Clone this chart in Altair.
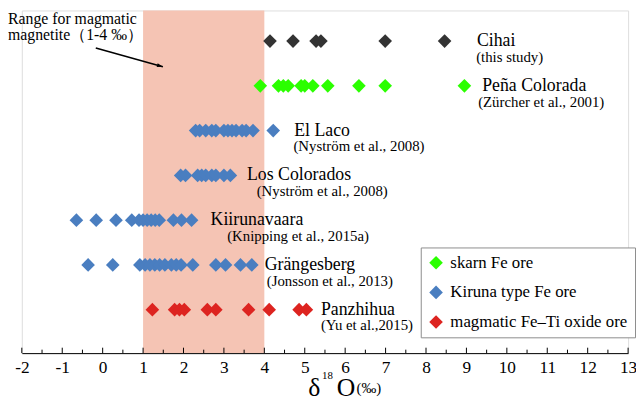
import altair as alt
import pandas as pd

# ---------------- data ----------------
deposits = ["Cihai", "Peña Colorada", "El Laco", "Los Colorados",
            "Kiirunavaara", "Grängesberg", "Panzhihua"]
references = ["(this study)", "(Zürcher et al., 2001)", "(Nyström et al., 2008)",
              "(Nyström et al., 2008)", "(Knipping et al., 2015a)",
              "(Jonsson et al., 2013)", "(Yu et al.,2015)"]
ore_types = ["Cihai", "skarn Fe ore", "Kiruna type Fe ore", "Kiruna type Fe ore",
             "Kiruna type Fe ore", "Kiruna type Fe ore", "magmatic Fe–Ti oxide ore"]

cihai = [4.14, 4.71, 5.28, 5.40, 6.99, 8.46]
pena_colorada = [3.90, 4.35, 4.47, 4.59, 4.91, 5.00, 5.20, 5.57, 6.34, 6.99, 8.95]
el_laco = [2.30, 2.40, 2.55, 2.70, 2.80, 3.00, 3.10, 3.20, 3.30, 3.45, 3.55, 3.72, 4.22]
los_colorados = [1.93, 2.05, 2.35, 2.45, 2.55, 2.70, 2.80, 3.00, 3.16]
kiirunavaara = [-0.65, -0.16, 0.33, 0.72, 0.90, 1.00, 1.10, 1.20, 1.30, 1.40, 1.75, 1.95, 2.20]
grangesberg = [-0.36, 0.25, 0.92, 1.05, 1.17, 1.29, 1.41, 1.54, 1.70, 1.82, 1.94,
               2.23, 2.80, 3.04, 3.41, 3.69]
panzhihua = [1.23, 1.78, 1.90, 2.02, 2.59, 2.80, 3.61, 4.12, 4.86, 5.04]
series = [cihai, pena_colorada, el_laco, los_colorados, kiirunavaara, grangesberg, panzhihua]

# label anchors (in ‰ units)
name_x = [9.26, 9.39, 4.74, 3.57, 2.67, 4.01, 5.40]
ref_x = [9.24, 9.29, 4.72, 3.81, 3.08, 4.06, 5.40]

magmatic_range = [1, 4]
major_ticks = [-2, -1, 0, 1, 2, 3, 4, 5, 6, 7, 8, 9, 10, 11, 12, 13]
minor_ticks = [-1.5, -0.5, 0.5, 1.5, 2.5, 3.5, 4.5, 5.5, 6.5, 7.5, 8.5, 9.5,
               10.5, 11.5, 12.5]

legend_types = ["skarn Fe ore", "Kiruna type Fe ore", "magmatic Fe–Ti oxide ore"]
type_domain = ["Cihai"] + legend_types
type_colors = ["#333333", "#2BFF00", "#4A7EC0", "#DD2420"]

# ---------------- tables ----------------
rows = []
for i, vals in enumerate(series):
    for v in vals:
        rows.append({"row": i, "d18O": v, "type": ore_types[i]})
points_df = pd.DataFrame(rows)
labels_df = pd.DataFrame({"row": list(range(len(deposits))), "name": deposits,
                          "ref": references, "name_x": name_x, "ref_x": ref_x})
range_df = pd.DataFrame({"lo": [magmatic_range[0]], "hi": [magmatic_range[1]]})
major_df = pd.DataFrame({"t": major_ticks})
minor_df = pd.DataFrame({"t": minor_ticks})
arrow_df = pd.DataFrame({"x0": [-0.17], "y0": [0.154], "x1": [1.49], "y1": [0.574]})
dummy = pd.DataFrame({"a": [0]})

W, H = 614, 347
FONT = "Liberation Serif"

xs = alt.Scale(domain=[-2, 13], nice=False, zero=False)
ys = alt.Scale(domain=[-0.684, 6.971], reverse=True, nice=False, zero=False)
xaxis = alt.Axis(values=major_ticks, tickSize=0, labelFont=FONT, labelFontSize=17.5,
                 labelColor="black", domainColor="black", domainWidth=1,
                 labelPadding=6, grid=False, title=None, labelFlush=False,
                 labelOverlap=False, labelExpr="'' + datum.value")

shade = alt.Chart(range_df).mark_rect(color="#F5C4B4").encode(
    x=alt.X("lo:Q", scale=xs, axis=xaxis, title=None),
    x2="hi:Q",
    y=alt.value(0), y2=alt.value(H),
)

major = alt.Chart(major_df).mark_rule(color="black", strokeWidth=1).encode(
    x=alt.X("t:Q", scale=xs, axis=xaxis, title=None),
    y=alt.value(H - 5.5), y2=alt.value(H),
)
minor = alt.Chart(minor_df).mark_rule(color="black", strokeWidth=1).encode(
    x=alt.X("t:Q", scale=xs, axis=xaxis, title=None),
    y=alt.value(H - 3.5), y2=alt.value(H),
)

pts = alt.Chart(points_df).mark_point(shape="diamond", filled=True, size=190,
                                      opacity=1, strokeWidth=0).encode(
    x=alt.X("d18O:Q", scale=xs, axis=xaxis, title=None),
    y=alt.Y("row:Q", scale=ys, axis=None),
    color=alt.Color("type:N", scale=alt.Scale(domain=type_domain, range=type_colors),
                    legend=alt.Legend(title=None, orient="none", legendX=404, legendY=240,
                                      values=legend_types, symbolType="diamond",
                                      symbolSize=190, symbolStrokeWidth=0,
                                      symbolOpacity=1, labelFont=FONT,
                                      labelFontSize=17, labelColor="black",
                                      labelOffset=6, rowPadding=12, padding=7,
                                      strokeColor="#8c8c8c", fillColor="white",
                                      labelLimit=400)),
)

names = alt.Chart(labels_df).mark_text(font=FONT, fontSize=18, align="left",
                                       baseline="alphabetic", dy=5,
                                       color="black").encode(
    x=alt.X("name_x:Q", scale=xs, axis=xaxis, title=None),
    y=alt.Y("row:Q", scale=ys, axis=None),
    text="name:N",
)
refs = alt.Chart(labels_df).mark_text(font=FONT, fontSize=15, align="left",
                                      baseline="alphabetic", dy=21,
                                      color="black").encode(
    x=alt.X("ref_x:Q", scale=xs, axis=xaxis, title=None),
    y=alt.Y("row:Q", scale=ys, axis=None),
    text="ref:N",
)

arrow_line = alt.Chart(arrow_df).mark_rule(color="black", strokeWidth=1.6).encode(
    x=alt.X("x0:Q", scale=xs, axis=xaxis, title=None), x2="x1:Q",
    y=alt.Y("y0:Q", scale=ys, axis=None), y2="y1:Q",
)
arrow_head = alt.Chart(arrow_df).mark_point(
    shape="M0,0 L-2,-0.65 L-2,0.65 Z", filled=True, size=36, opacity=1,
    color="black", angle=15.6, strokeWidth=0).encode(
    x=alt.X("x1:Q", scale=xs, axis=xaxis, title=None),
    y=alt.Y("y1:Q", scale=ys, axis=None),
)

note = alt.Chart(dummy).mark_text(font=FONT, fontSize=16, align="left",
                                  baseline="alphabetic", lineHeight=16,
                                  color="black").encode(
    x=alt.value(-14), y=alt.value(14),
    text=alt.value(["Range for magmatic", "magnetite（1-4 ‰）"]),
)

t_delta = alt.Chart(dummy).mark_text(font=FONT, fontSize=26, align="left",
                                     baseline="alphabetic", color="black").encode(
    x=alt.value(290), y=alt.value(390), text=alt.value("δ"))
t_18 = alt.Chart(dummy).mark_text(font=FONT, fontSize=11, align="left",
                                  baseline="alphabetic", color="black").encode(
    x=alt.value(304), y=alt.value(373), text=alt.value("18"))
t_O = alt.Chart(dummy).mark_text(font=FONT, fontSize=26, align="left",
                                 baseline="alphabetic", color="black").encode(
    x=alt.value(319), y=alt.value(390), text=alt.value("O"))
t_pm = alt.Chart(dummy).mark_text(font=FONT, fontSize=15, align="left",
                                  baseline="alphabetic", color="black").encode(
    x=alt.value(339), y=alt.value(387), text=alt.value("(‰)"))

chart = alt.layer(shade, minor, major, pts, names, refs, arrow_line, arrow_head,
                  note, t_delta, t_18, t_O, t_pm).properties(
    width=W, height=H,
    autosize=alt.AutoSizeParams(type="none"),
    padding={"left": 14, "top": 0, "right": 8, "bottom": 48},
).configure_view(strokeWidth=0).configure(font=FONT)

chart.save("out.html", embed_options={"renderer": "svg", "actions": False})
